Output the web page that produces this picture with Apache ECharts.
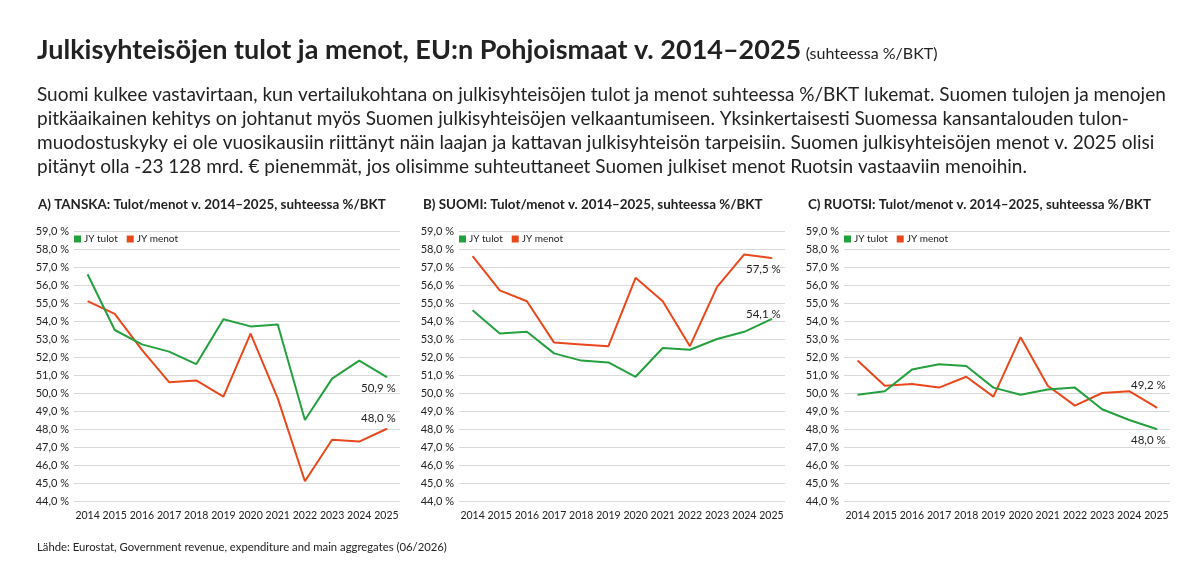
<!DOCTYPE html>
<html>
<head>
<meta charset="utf-8">
<script src="https://cdn.jsdelivr.net/npm/echarts@6/dist/echarts.min.js"></script>
<style>
html,body{margin:0;padding:0;background:#fff;}
#c{width:1200px;height:587px;}
</style>
</head>
<body>
<div id="c"></div>
<script>
var years = ['2014','2015','2016','2017','2018','2019','2020','2021','2022','2023','2024','2025'];

var tanskaTulot  = [56.6, 53.5, 52.7, 52.3, 51.6, 54.1, 53.7, 53.8, 48.5, 50.8, 51.8, 50.9];
var tanskaMenot  = [55.1, 54.4, 52.4, 50.6, 50.7, 49.8, 53.3, 49.7, 45.1, 47.4, 47.3, 48.0];
var suomiTulot   = [54.6, 53.3, 53.4, 52.2, 51.8, 51.7, 50.9, 52.5, 52.4, 53.0, 53.4, 54.1];
var suomiMenot   = [57.6, 55.7, 55.1, 52.8, 52.7, 52.6, 56.4, 55.1, 52.6, 55.9, 57.7, 57.5];
var ruotsiTulot  = [49.9, 50.1, 51.3, 51.6, 51.5, 50.3, 49.9, 50.2, 50.3, 49.1, 48.5, 48.0];
var ruotsiMenot  = [51.8, 50.4, 50.5, 50.3, 50.9, 49.8, 53.1, 50.4, 49.3, 50.0, 50.1, 49.2];

var seriesNames = ['JY tulot', 'JY menot'];
var panelTitles = [
  'A) TANSKA: Tulot/menot v. 2014–2025, suhteessa %/BKT',
  'B) SUOMI: Tulot/menot v. 2014–2025, suhteessa %/BKT',
  'C) RUOTSI: Tulot/menot v. 2014–2025, suhteessa %/BKT'
];
var mainTitle = 'Julkisyhteisöjen tulot ja menot, EU:n Pohjoismaat v. 2014–2025';
var mainTitleNote = '(suhteessa %/BKT)';
var bodyLines = [
  'Suomi kulkee vastavirtaan, kun vertailukohtana on julkisyhteisöjen tulot ja menot suhteessa %/BKT lukemat. Suomen tulojen ja menojen',
  'pitkäaikainen kehitys on johtanut myös Suomen julkisyhteisöjen velkaantumiseen. Yksinkertaisesti Suomessa kansantalouden tulon-',
  'muodostuskyky ei ole vuosikausiin riittänyt näin laajan ja kattavan julkisyhteisön tarpeisiin. Suomen julkisyhteisöjen menot v. 2025 olisi',
  'pitänyt olla -23 128 mrd. € pienemmät, jos olisimme suhteuttaneet Suomen julkiset menot Ruotsin vastaaviin menoihin.'
];
var sourceText = 'Lähde: Eurostat, Government revenue, expenditure and main aggregates (06/2026)';

var FONT = 'Lato';
var GREEN = '#25a03f';
var RED = '#e8481c';
var TXT = '#222222';

var panels = [
  {tulot: tanskaTulot, menot: tanskaMenot, tulotPos: 'bottom', menotPos: 'top', tulotDy: 0, menotDy: 0},
  {tulot: suomiTulot, menot: suomiMenot, tulotPos: 'top', menotPos: 'bottom', tulotDy: 6, menotDy: 0},
  {tulot: ruotsiTulot, menot: ruotsiMenot, tulotPos: 'bottom', menotPos: 'top', tulotDy: 0, menotDy: -11}
];
var gridLefts = [74, 459, 844];
var gridWidth = 326;
var titleLefts = [33, 418, 803];

function fmt(v){ return v.toFixed(1).replace('.', ',') + ' %'; }

function makeData(arr, pos, color, dy){
  return arr.map(function(v, i){
    if (i === arr.length - 1) {
      return {value: v, symbol: 'circle', symbolSize: 2, itemStyle: {color: color},
        label: {show: true, position: pos, distance: 4, offset: [-8, dy],
        formatter: function(p){ return fmt(p.value); },
        color: TXT, fontFamily: FONT, fontSize: 11.5}};
    }
    return {value: v, symbol: 'none'};
  });
}

var option = {
  backgroundColor: '#fff',
  animation: false,
  textStyle: {fontFamily: FONT},
  title: [
    {left: 32, top: 32, text: '{a|' + mainTitle + '} {b|' + mainTitleNote + '}',
     textStyle: {rich: {
       a: {fontFamily: FONT, fontWeight: 'bold', fontSize: 27, color: TXT},
       b: {fontFamily: FONT, fontWeight: 'normal', fontSize: 16, color: TXT, padding: [6,0,0,0]}
     }}},
    {left: 32, top: 78, text: bodyLines.join('\n'),
     textStyle: {fontFamily: FONT, fontSize: 19, color: TXT, fontWeight: 'normal', lineHeight: 24}},
    {left: 32, top: 537, text: sourceText,
     textStyle: {fontFamily: FONT, fontSize: 11.3, color: TXT, fontWeight: 'normal'}}
  ].concat(panelTitles.map(function(t, i){
    return {left: titleLefts[i], top: 193, text: t,
      textStyle: {fontFamily: FONT, fontSize: 13.4, fontWeight: 'bold', color: TXT}};
  })),
  legend: gridLefts.map(function(l, i){
    return {left: l, top: 234, padding: 0, itemWidth: 7, itemHeight: 7, itemGap: 9, icon: 'rect',
      data: seriesNames.map(function(n){ return n + (i ? '\u200B'.repeat(i) : ''); }),
      textStyle: {fontFamily: FONT, fontSize: 10, color: TXT, padding: [0,0,0,-2]}};
  }),
  grid: gridLefts.map(function(l){
    return {left: l, width: gridWidth, top: 231, height: 270};
  }),
  xAxis: gridLefts.map(function(l, i){
    return {type: 'category', gridIndex: i, data: years, boundaryGap: true,
      axisLine: {show: false}, axisTick: {show: false},
      axisLabel: {fontFamily: FONT, fontSize: 10.5, color: TXT, margin: 9, interval: 0}};
  }),
  yAxis: gridLefts.map(function(l, i){
    return {type: 'value', gridIndex: i, min: 44, max: 59, interval: 1,
      axisLine: {show: false}, axisTick: {show: false},
      splitLine: {lineStyle: {color: '#d9d9d9', width: 1}},
      axisLabel: {fontFamily: FONT, fontSize: 11, color: TXT, margin: 5, formatter: fmt}};
  }),
  series: []
};

panels.forEach(function(p, i){
  var suffix = i ? '\u200B'.repeat(i) : '';
  option.series.push({
    name: seriesNames[0] + suffix, type: 'line', xAxisIndex: i, yAxisIndex: i,
    data: makeData(p.tulot, p.tulotPos, GREEN, p.tulotDy), showSymbol: true,
    lineStyle: {color: GREEN, width: 2}, itemStyle: {color: GREEN}, z: 3
  });
  option.series.push({
    name: seriesNames[1] + suffix, type: 'line', xAxisIndex: i, yAxisIndex: i,
    data: makeData(p.menot, p.menotPos, RED, p.menotDy), showSymbol: true,
    lineStyle: {color: RED, width: 2}, itemStyle: {color: RED}, z: 2
  });
});

var chart = echarts.init(document.getElementById('c'), null, {renderer: 'canvas'});
chart.setOption(option);
</script>
</body>
</html>
